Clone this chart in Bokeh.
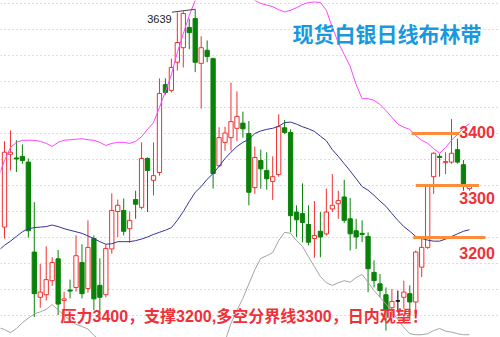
from bokeh.plotting import figure
from bokeh.models import Range1d, SingleIntervalTicker, ColumnDataSource, Label, Grid
from bokeh.core.properties import value
from bokeh.embed import file_html
from bokeh.resources import INLINE

# ---- daily candles (price) ----
opens = [3220, 3360, 3353, 3356, 3345, 3172, 3085, 3090, 3117, 3159,
         3079, 3099, 3104, 3152, 3102, 3198, 3108, 3090, 3178, 3250,
         3252, 3217, 3273, 3258, 3352, 3310, 3325, 3494, 3483, 3537,
         3565, 3604, 3621, 3535, 3560, 3544, 3338, 3383, 3392, 3410,
         3420, 3400, 3296, 3348, 3329, 3308, 3321, 3411, 3402, 3249,
         3246, 3225, 3198, 3212, 3207, 3255, 3265, 3278, 3236, 3213,
         3208, 3202, 3133, 3111, 3090, 3065, 3078, 3085, 3092, 3076,
         3143, 3181, 3317, 3356, 3344, 3345, 3369, 3340, 3294]
highs = [3385, 3406, 3387, 3379, 3352, 3268, 3149, 3183, 3162, 3176,
         3096, 3119, 3204, 3187, 3233, 3204, 3160, 3187, 3285, 3273,
         3275, 3250, 3290, 3383, 3354, 3383, 3506, 3506, 3544, 3633,
         3635, 3621, 3639, 3587, 3579, 3546, 3412, 3413, 3498, 3481,
         3442, 3424, 3375, 3369, 3364, 3356, 3437, 3426, 3408, 3262,
         3304, 3262, 3270, 3249, 3294, 3322, 3290, 3311, 3276, 3236,
         3233, 3210, 3156, 3130, 3104, 3101, 3098, 3117, 3108, 3175,
         3198, 3303, 3364, 3361, 3364, 3428, 3390, 3349, 3300]
lows = [3198, 3329, 3326, 3342, 3200, 3047, 3065, 3079, 3107, 3051,
        3040, 3083, 3096, 3083, 3094, 3060, 3047, 3085, 3169, 3201,
        3204, 3190, 3236, 3254, 3249, 3281, 3319, 3475, 3479, 3521,
        3527, 3562, 3518, 3448, 3537, 3294, 3335, 3367, 3367, 3385,
        3392, 3262, 3284, 3294, 3292, 3272, 3317, 3399, 3210, 3201,
        3191, 3185, 3161, 3162, 3204, 3249, 3236, 3228, 3175, 3178,
        3191, 3095, 3104, 3085, 3021, 3047, 3056, 3063, 3040, 3053,
        3124, 3178, 3284, 3317, 3322, 3342, 3342, 3290, 3290]
closes = [3364, 3364, 3351, 3348, 3213, 3092, 3095, 3119, 3152, 3072,
          3082, 3097, 3165, 3092, 3181, 3082, 3085, 3179, 3252, 3262,
          3212, 3233, 3264, 3352, 3329, 3319, 3477, 3479, 3527, 3575,
          3631, 3594, 3537, 3565, 3548, 3323, 3392, 3401, 3423, 3433,
          3409, 3287, 3354, 3332, 3313, 3317, 3413, 3402, 3242, 3234,
          3229, 3191, 3204, 3201, 3249, 3262, 3271, 3233, 3207, 3201,
          3206, 3140, 3117, 3098, 3060, 3077, 3078, 3095, 3076, 3172,
          3181, 3300, 3362, 3354, 3346, 3362, 3345, 3302, 3298]

# ---- Bollinger bands (one value per bar, starting one bar before the first candle) ----
band_start = -1
upper = [3317, 3348, 3373, 3383, 3387, 3387, 3387, 3385, 3381, 3375,
         3383, 3387, 3388, 3389, 3390, 3388, 3387, 3383, 3377, 3381,
         3383, 3383, 3381, 3385, 3394, 3408, 3421, 3450, 3481, 3513,
         3556, 3592, 3627, 3656, 3675, 3690, 3698, 3702, 3704, 3694,
         3690, 3683, 3667, 3656, 3650, 3647, 3644, 3638, 3634, 3637,
         3642, 3648, 3652, 3653, 3652, 3637, 3604, 3575, 3552, 3529,
         3494, 3467, 3467, 3464, 3456, 3444, 3431, 3418, 3412, 3408,
         3396, 3387, 3381, 3371, 3362, 3373, 3387, 3398, 3410, 3419]
middle = [3175, 3185, 3193, 3202, 3211, 3217, 3219, 3220, 3221, 3224,
          3221, 3217, 3214, 3211, 3208, 3203, 3198, 3192, 3187, 3188,
          3192, 3192, 3192, 3194, 3197, 3201, 3206, 3210, 3214, 3219,
          3233, 3250, 3269, 3287, 3298, 3312, 3323, 3337, 3352, 3364,
          3375, 3383, 3389, 3400, 3405, 3408, 3410, 3414, 3421, 3422,
          3418, 3413, 3409, 3404, 3395, 3386, 3369, 3356, 3342, 3328,
          3313, 3298, 3291, 3281, 3270, 3260, 3246, 3233, 3221, 3212,
          3202, 3198, 3195, 3193, 3193, 3197, 3202, 3207, 3212, 3215]
lower = [3027, 3023, 3017, 3025, 3036, 3045, 3053, 3057, 3062, 3071,
         3061, 3050, 3041, 3033, 3029, 3024, 3012, 3002, 2996, 2996,
         3002, 3002, 3004, 3004, 3000, 2994, 2990, 2969, 2946, 2925,
         2910, 2908, 2912, 2917, 2921, 2933, 2948, 2971, 3000, 3035,
         3060, 3083, 3111, 3138, 3160, 3165, 3171, 3194, 3210, 3208,
         3194, 3183, 3163, 3144, 3125, 3113, 3108, 3113, 3117, 3114,
         3123, 3129, 3114, 3098, 3085, 3072, 3058, 3042, 3027, 3015,
         3013, 3013, 3015, 3021, 3025, 3020, 3018, 3015, 3013, 3013]

# ---- key levels and texts ----
levels = [3400, 3300, 3200]
level_labels = ["3400", "3300", "3200"]
title_text = "现货白银日线布林带"
note_text = "压力3400，支撑3200,多空分界线3300，日内观望！"

# layout helpers (positions, not data)
level_x0 = [68.3, 69.0, 68.6]
level_x1 = [76.3, 79.6, 80.7]
level_label_x = 76.3
level_label_dy = [-2, 12.5, 15.5]

UP_LINE = "#f23030"
DOWN = "#0a820a"
FLAT = "#000000"

n = len(opens)
idx = list(range(n))
cols, fills, tops, bots = [], [], [], []
for o, c in zip(opens, closes):
    if c > o:
        cols.append(UP_LINE); fills.append("#ffffff")
    elif c < o:
        cols.append(DOWN); fills.append(DOWN)
    else:
        cols.append(FLAT); fills.append(FLAT)
    tops.append(max(o, c)); bots.append(min(o, c))

src = ColumnDataSource(dict(i=idx, h=highs, l=lows, top=tops, bot=bots, col=cols, fill=fills))

p = figure(width=500, height=337, output_backend="svg", toolbar_location=None,
           x_range=Range1d(-0.671, 83.22), y_range=Range1d(3007.7, 3655.8),
           x_axis_type=None, y_axis_type=None, min_border=0,
           background_fill_color="white", border_fill_color="white")
p.outline_line_color = None

grid = Grid(dimension=1, ticker=SingleIntervalTicker(interval=50),
            grid_line_color="#b8b8b8", grid_line_dash="1 3", grid_line_width=1)
p.add_layout(grid)

p.segment(x0="i", y0="h", x1="i", y1="l", line_color="col", line_width=1, source=src)
p.vbar(x="i", width=0.72, top="top", bottom="bot", fill_color="fill",
       line_color="col", line_width=1, source=src)

band_x = list(range(band_start, band_start + len(upper)))
p.line(band_x, upper, line_color="#ff44ff", line_width=1)
p.line(band_x, middle, line_color="#34349a", line_width=1)
p.line(band_x, lower, line_color="#a4a4a4", line_width=1)

# key level lines and labels
p.segment(x0=level_x0, y0=levels, x1=level_x1, y1=levels, line_color="#ff8c3a", line_width=3)
lsrc = ColumnDataSource(dict(x=[level_label_x] * len(levels), y=levels, t=level_labels, dy=level_label_dy))
p.text(x="x", y="y", text="t", y_offset="dy", source=lsrc, text_baseline="middle",
       text_font=value("Liberation Sans"), text_font_style="bold", text_font_size="16px",
       text_color="#f03038")

# highest price marker
hi_i = max(range(n), key=lambda k: highs[k])
hi = highs[hi_i]
p.segment(x0=[hi_i - 3.9], y0=[hi - 5.7], x1=[hi_i], y1=[hi], line_color="#444444", line_width=1)
p.text(x=[hi_i - 3.95], y=[hi - 18.5], text=[str(hi)], text_align="right", text_baseline="middle",
       text_font=value("Liberation Sans"), text_font_size="11px", text_color="#222222")

p.add_layout(Label(x=292, y=304.5, x_units="screen", y_units="screen", text=title_text,
                   text_font="Noto Sans CJK SC", text_font_style="bold", text_font_size="21px",
                   text_color="#1a98de", text_baseline="middle"))
p.add_layout(Label(x=60, y=21, x_units="screen", y_units="screen", text=note_text,
                   text_font="'Liberation Sans', 'Noto Sans CJK SC'", text_font_style="bold",
                   text_font_size="16px", text_color="#f03038", text_baseline="middle"))

open("out.html", "w").write(file_html(p, INLINE))
